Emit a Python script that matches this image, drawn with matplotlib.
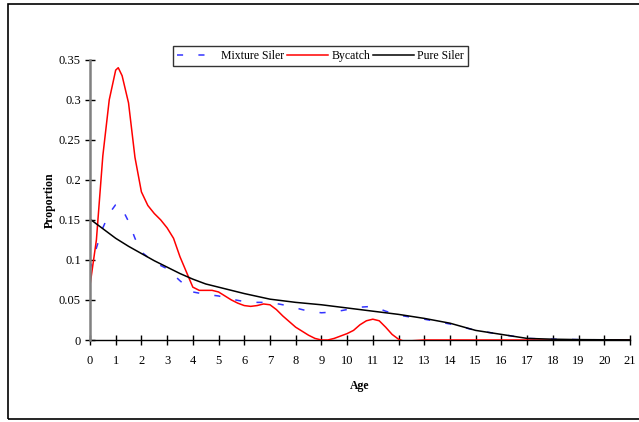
import matplotlib
matplotlib.use("Agg")
import matplotlib.pyplot as plt
from matplotlib.patches import Rectangle

plt.rcParams['font.family'] = ['Liberation Serif', 'DejaVu Serif']

# Bycatch (red)
bycatch_age = [0, 0.25, 0.5, 0.75, 1.0, 1.1, 1.25, 1.5, 1.75, 2.0, 2.25, 2.5, 2.75, 3.0,
               3.25, 3.5, 3.75, 4.0, 4.25, 4.5, 4.75, 5.0, 5.25, 5.5, 5.75, 6.0, 6.25,
               6.5, 6.75, 7.0, 7.25, 7.5, 7.75, 8.0, 8.25, 8.5, 8.75, 9.0, 9.25, 9.5,
               9.75, 10.0, 10.25, 10.5, 10.75, 11.0, 11.25, 11.5, 11.75, 12.0, 12.25,
               12.5, 13.0, 21]
bycatch = [0.068, 0.125, 0.23, 0.30, 0.337, 0.340, 0.330, 0.296, 0.228, 0.185, 0.168,
           0.158, 0.150, 0.140, 0.127, 0.104, 0.085, 0.066, 0.062, 0.062, 0.062, 0.060,
           0.055, 0.050, 0.046, 0.043, 0.042, 0.043, 0.045, 0.044, 0.038, 0.030, 0.023,
           0.016, 0.011, 0.006, 0.002, 0.0, 0.0, 0.002, 0.005, 0.008, 0.012, 0.019,
           0.024, 0.026, 0.024, 0.016, 0.007, 0.001, -0.002, -0.001, 0.0, 0.0]

# Mixture Siler (blue dashed)
mix_age = [0, 0.25, 0.5, 0.75, 1.0, 1.1, 1.25, 1.5, 1.75, 2.0, 2.5, 3.0, 3.5, 4.0, 4.5,
           5, 5.5, 6, 6.5, 7, 7.5, 8, 8.5, 9, 9.5, 10, 10.5, 11, 11.5, 12, 13, 14, 15,
           16, 17, 18, 19, 20, 21]
mixture = [0.088, 0.115, 0.140, 0.158, 0.169, 0.170, 0.164, 0.148, 0.127, 0.110, 0.097,
           0.089, 0.074, 0.060, 0.057, 0.055, 0.051, 0.048, 0.047, 0.047, 0.044, 0.040,
           0.036, 0.034, 0.035, 0.038, 0.041, 0.042, 0.036, 0.031, 0.026, 0.020, 0.012,
           0.007, 0.002, 0.001, 0.0005, 0.0002, 0.0001]

# Pure Siler (black)
pure_age = [0, 0.5, 1, 1.5, 2, 2.5, 3, 3.5, 4, 4.5, 5, 6, 7, 8, 9, 10, 11, 12, 13, 14,
            15, 16, 17, 18, 19, 20, 21]
pure = [0.151, 0.139, 0.127, 0.117, 0.108, 0.099, 0.091, 0.083, 0.076, 0.070, 0.066,
        0.058, 0.051, 0.047, 0.044, 0.040, 0.036, 0.032, 0.027, 0.021, 0.012, 0.007,
        0.002, 0.001, 0.0005, 0.0003, 0.0002]

fig = plt.figure(figsize=(6.39, 4.22), dpi=100)
ax = fig.add_axes([0.1408, 0.1943, 0.845, 0.6642])

ax.plot(mix_age, mixture, color='#3333ff', lw=1.1, linestyle=(0, (4, 10)), label='Mixture Siler')
ax.plot(bycatch_age, bycatch, color='#ff0000', lw=1.1, label='Bycatch')
ax.plot(pure_age, pure, color='black', lw=1.1, label='Pure Siler')

ax.set_xlim(0, 21)
ax.set_ylim(0, 0.35)
ax.set_xticks(range(0, 22))
ax.set_yticks([0, 0.05, 0.1, 0.15, 0.2, 0.25, 0.3, 0.35])
ax.set_yticklabels(['0', '0.05', '0.1', '0.15', '0.2', '0.25', '0.3', '0.35'])
ax.tick_params(direction='inout', length=7, width=1, labelsize=9, colors='black')
ax.tick_params(axis='x', pad=7)
ax.tick_params(axis='y', pad=3)

for s in ['top', 'right']:
    ax.spines[s].set_visible(False)
ax.spines['left'].set_color('#808080')
ax.spines['left'].set_linewidth(1.8)
ax.spines['bottom'].set_color('black')
ax.spines['bottom'].set_linewidth(1)
ax.spines['bottom'].set_zorder(0)

ax.set_xlabel('Age', fontsize=8.5, fontweight='bold', labelpad=10)
ax.set_ylabel('Proportion', fontsize=8.5, fontweight='bold', labelpad=2)

leg = fig.legend(loc='center', bbox_to_anchor=(320.5 / 639, 1 - 56 / 422), ncol=3,
                 fontsize=8.5, frameon=True, fancybox=False, handlelength=3.4,
                 handletextpad=0.3, columnspacing=0.3, borderpad=0.35)
leg.get_frame().set_edgecolor('black')
leg.get_frame().set_linewidth(1)

# outer border
fig.patches.append(Rectangle((8 / 639, 3 / 422), 1.0, 415 / 422, transform=fig.transFigure,
                             fill=False, edgecolor='black', lw=1.2))

fig.savefig('out.png', dpi=100)
